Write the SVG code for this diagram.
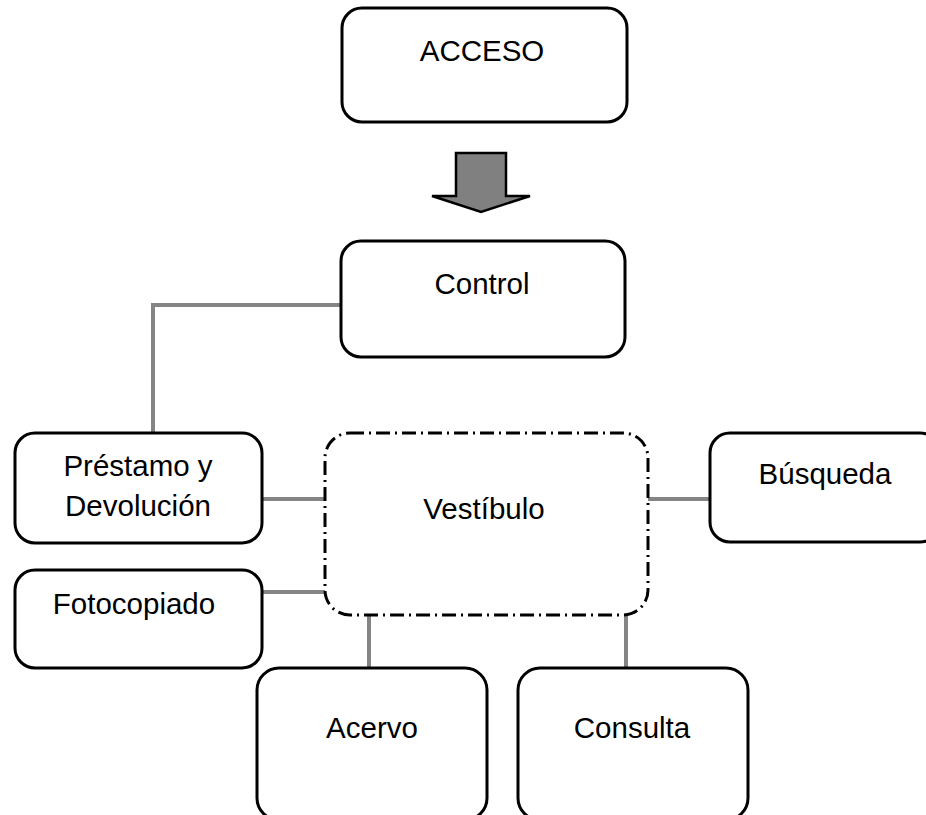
<svg xmlns="http://www.w3.org/2000/svg" width="926" height="815" viewBox="0 0 926 815">
<style>
.box{fill:#fff;stroke:#000;stroke-width:3}
.dash{fill:#fff;stroke:#000;stroke-width:3;stroke-dasharray:14 5 2 5}
.lbl{font-family:"Liberation Sans",Arial,sans-serif;font-size:29.5px;fill:#000;text-anchor:middle}
.con{stroke:#858585;stroke-width:4;fill:none}
</style>
<rect width="926" height="815" fill="#fff"/>
<g id="connectors">
<polyline class="con" points="341,305 153,305 153,433"/>
<line class="con" x1="262" y1="499" x2="325" y2="499"/>
<line class="con" x1="262" y1="592" x2="325" y2="592"/>
<line class="con" x1="648" y1="499" x2="710" y2="499"/>
<line class="con" x1="369" y1="615" x2="369" y2="668"/>
<line class="con" x1="626" y1="615" x2="626" y2="668"/>
<polygon points="456,153 506,153 506,196 530,196 481,212 432,196 456,196" fill="#808080" stroke="#000" stroke-width="2.5" stroke-linejoin="miter"/>
</g>
<g id="acceso">
<rect class="box" x="342" y="8" width="285" height="114" rx="20"/>
<text class="lbl" x="482" y="61">ACCESO</text>
</g>
<g id="control">
<rect class="box" x="341" y="241" width="284" height="116" rx="20"/>
<text class="lbl" x="482" y="294">Control</text>
</g>
<g id="prestamo">
<rect class="box" x="15" y="433" width="247" height="110" rx="20"/>
<text class="lbl" x="138" y="476">Préstamo y</text>
<text class="lbl" x="138" y="516">Devolución</text>
</g>
<g id="fotocopiado">
<rect class="box" x="15" y="570" width="247" height="98" rx="20"/>
<text class="lbl" x="134" y="614">Fotocopiado</text>
</g>
<g id="vestibulo">
<rect class="dash" x="325" y="433" width="323" height="182" rx="25"/>
<text class="lbl" x="484" y="519">Vestíbulo</text>
</g>
<g id="busqueda">
<rect class="box" x="710" y="433" width="230" height="109" rx="20"/>
<text class="lbl" x="825" y="484">Búsqueda</text>
</g>
<g id="acervo">
<rect class="box" x="257" y="668" width="230" height="152" rx="22"/>
<text class="lbl" x="372" y="738">Acervo</text>
</g>
<g id="consulta">
<rect class="box" x="518" y="668" width="230" height="152" rx="22"/>
<text class="lbl" x="632" y="738">Consulta</text>
</g>
</svg>
